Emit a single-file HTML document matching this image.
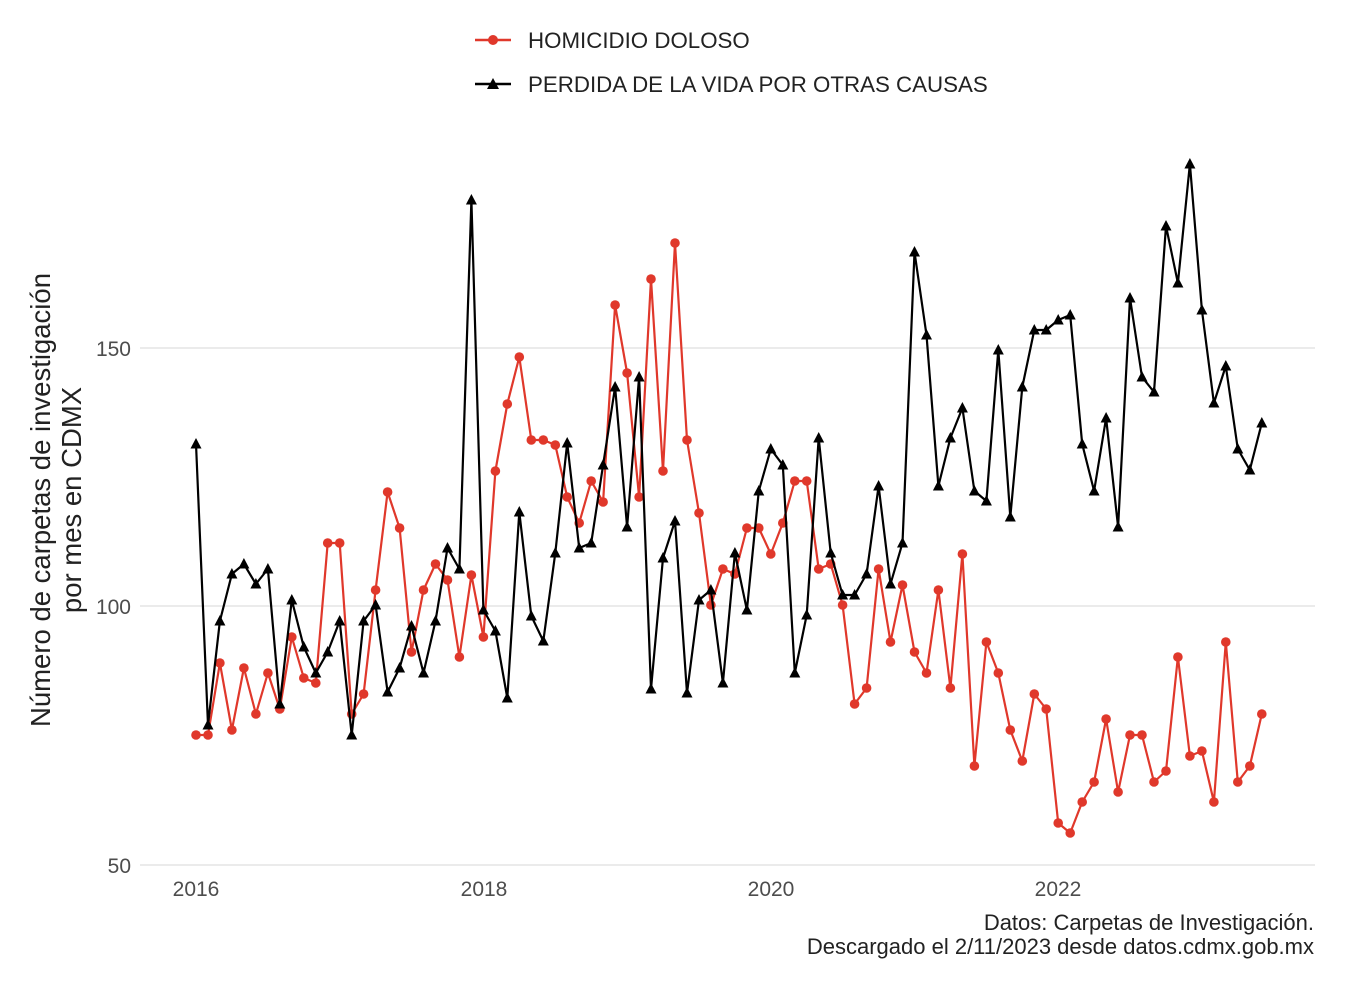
<!DOCTYPE html>
<html><head><meta charset="utf-8"><style>
body{margin:0;background:#fff;}
svg{display:block;font-family:"Liberation Sans",sans-serif;}
</style></head><body>
<svg id="s" width="1356" height="984" viewBox="0 0 1356 984">
<rect width="1356" height="984" fill="#fff"/>
<g stroke="#ebebeb" stroke-width="2">
<line x1="140" x2="1315" y1="348" y2="348"/>
<line x1="140" x2="1315" y1="606" y2="606"/>
<line x1="140" x2="1315" y1="865" y2="865"/>
</g>
<g fill="#4d4d4d" font-size="21" text-anchor="end">
<text x="131" y="356">150</text>
<text x="131" y="614">100</text>
<text x="131" y="873">50</text>
</g>
<g fill="#4d4d4d" font-size="21" text-anchor="middle">
<text x="196" y="896">2016</text>
<text x="484" y="896">2018</text>
<text x="771" y="896">2020</text>
<text x="1058" y="896">2022</text>
</g>
<g font-size="27.5" fill="#222" text-anchor="middle">
<text transform="translate(50,500) rotate(-90)">Número de carpetas de investigación</text>
<text transform="translate(81,500) rotate(-90)">por mes en CDMX</text>
</g>
<g font-size="22" fill="#222" text-anchor="end">
<text x="1314" y="930">Datos: Carpetas de Investigación.</text>
<text x="1314" y="954">Descargado el 2/11/2023 desde datos.cdmx.gob.mx</text>
</g>
<g font-size="22.3" fill="#222">
<line x1="475" x2="511" y1="40" y2="40" stroke="#e0382b" stroke-width="2.5"/>
<circle cx="493" cy="40" r="5" fill="#e0382b"/>
<text x="528" y="48">HOMICIDIO DOLOSO</text>
<line x1="475" x2="511" y1="84" y2="84" stroke="#000" stroke-width="2.5"/>
<polygon points="493,78 499,89 487,89" fill="#000"/>
<text x="528" y="92">PERDIDA DE LA VIDA POR OTRAS CAUSAS</text>
</g>
<g id="series"></g>
</svg>
<script>
var red=[735,735,663,730,668,714,673,709,637,678,683,543,543,714,694,590,492,528,652,590,564,580,657,575,637,471,404,357,440,440,445,497,523,481,502,305,373,497,279,471,243,440,513,605,569,574,528,528,554,523,481,481,569,564,605,704,688,569,642,585,652,673,590,688,554,766,642,673,730,761,694,709,823,833,802,782,719,792,735,735,782,771,657,756,751,802,642,782,766,714];
var blk=[444,725,621,574,564,584,569,704,600,647,673,652,621,735,621,605,692,668,626,673,621,548,569,200,610,631,698,512,616,641,553,443,548,543,465,387,527,377,689,558,521,693,600,590,683,553,610,491,449,465,673,615,438,553,595,595,574,486,584,543,252,335,486,438,408,491,501,350,517,387,330,330,320,315,444,491,418,527,298,377,392,226,283,164,310,403,366,449,470,423];
function X(i){return 196+i*11.975;}
var h='';
function line(a,c){var p=a.map(function(y,i){return X(i).toFixed(1)+','+y}).join(' ');h+='<polyline points="'+p+'" fill="none" stroke="'+c+'" stroke-width="2.2" stroke-linejoin="round"/>';}
line(red,'#e0382b');
red.forEach(function(y,i){h+='<circle cx="'+X(i).toFixed(1)+'" cy="'+y+'" r="4.8" fill="#e0382b"/>';});
line(blk,'#000');
blk.forEach(function(y,i){var x=X(i);h+='<polygon points="'+x.toFixed(1)+','+(y-6)+' '+(x+5.5).toFixed(1)+','+(y+4.5)+' '+(x-5.5).toFixed(1)+','+(y+4.5)+'" fill="#000"/>';});
document.getElementById('series').innerHTML=h;
</script>
</body></html>
